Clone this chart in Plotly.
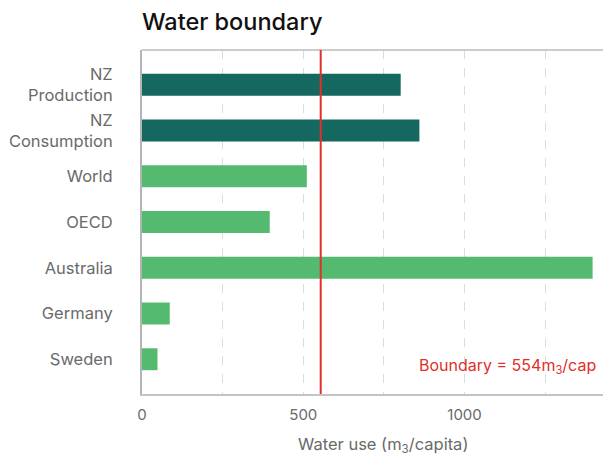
import plotly.graph_objects as go

categories = ["NZ<br>Production", "NZ<br>Consumption", "World", "OECD", "Australia", "Germany", "Sweden"]
values = [802, 860, 511, 396, 1397, 86, 48]
bar_colors = ["#146860", "#146860", "#53ba6f", "#53ba6f", "#53ba6f", "#53ba6f", "#53ba6f"]
boundary = 554
x_tickvals = [0, 500, 1000]

fig = go.Figure()
fig.add_trace(go.Bar(
    y=categories, x=values, orientation="h",
    marker=dict(color=bar_colors, line=dict(width=0)),
    width=0.48, hoverinfo="x+y",
))

fig.add_shape(type="line", xref="paper", yref="paper", x0=0, x1=1.02, y0=1, y1=1,
              line=dict(color="#cccccc", width=2), layer="above")
fig.add_shape(type="line", xref="x", yref="paper", x0=boundary, x1=boundary, y0=0, y1=1,
              line=dict(color="#e0302a", width=2), layer="above")
fig.add_annotation(xref="paper", yref="paper", x=0.972, y=0.045, xanchor="right", yanchor="bottom",
                   text="Boundary = %dm<sub>3</sub>/cap" % boundary, showarrow=False,
                   font=dict(family="Inter", size=16, color="#e0302a"))
fig.add_annotation(xref="paper", yref="paper", x=0.514, y=-0.148, xanchor="center", yanchor="middle",
                   text="Water use (m<sub>3</sub>/capita)", showarrow=False,
                   font=dict(family="Inter", size=16.5, color="#6a6a6a"))

fig.update_layout(
    width=603, height=447,
    margin=dict(l=134, r=0, t=42, b=61),
    paper_bgcolor="white", plot_bgcolor="white",
    showlegend=False,
    title=dict(text="Water boundary", x=134/603, xanchor="left", yref="container",
               y=1 - 14/447, yanchor="middle",
               font=dict(family="Inter", size=23.5, color="#111111", weight=500)),
    font=dict(family="Inter", color="#6a6a6a", size=16),
    xaxis=dict(range=[0, 1454], tickvals=x_tickvals, showgrid=True, gridcolor="#dddddd",
               griddash="dash", gridwidth=1,
               minor=dict(dtick=250, showgrid=True, gridcolor="#dddddd", griddash="dash"),
               showline=True, linecolor="#c4c4c4", linewidth=2, mirror=False, zeroline=False,
               ticks="", ticklabelstandoff=6, tickfont=dict(size=15)),
    yaxis=dict(range=[6.76, -0.76], showline=True, linecolor="#b4b4b4", linewidth=2,
               showgrid=False, zeroline=False, ticks="", ticklabelstandoff=24,
               tickfont=dict(size=16.5)),
)

fig.write_html("out.html")
